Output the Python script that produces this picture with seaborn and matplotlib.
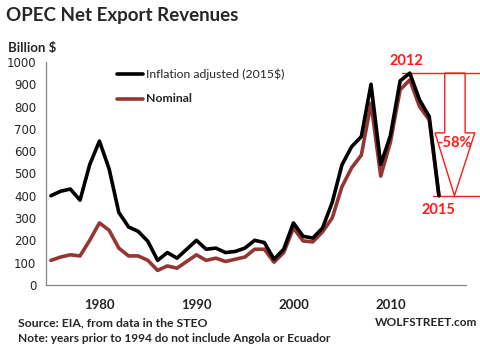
import numpy as np
import pandas as pd
import matplotlib
matplotlib.use('Agg')
import matplotlib.pyplot as plt
import seaborn as sns
from matplotlib.patches import Polygon

years = list(range(1975, 2016))
real = [400, 420, 430, 380, 540, 645, 520, 325, 260, 240,
        195, 110, 145, 120, 160, 200, 160, 165, 145, 150,
        165, 200, 190, 115, 160, 278, 218, 210, 255, 370,
        538, 620, 665, 900, 540, 670, 915, 950, 830, 755,
        400]
nominal = [110, 125, 135, 130, 200, 278, 245, 165, 130, 130,
           110, 65, 85, 75, 105, 135, 110, 120, 105, 115,
           125, 160, 160, 102, 145, 255, 197, 193, 238, 300,
           440, 525, 582, 815, 488, 640, 875, 920, 800, 740,
           400]
series_names = ["Inflation adjusted (2015$)", "Nominal"]

df = pd.DataFrame({"year": years, series_names[0]: real, series_names[1]: nominal})
long = df.melt(id_vars="year", var_name="series", value_name="value")

sns.set_style("white")
plt.rcParams['font.family'] = ['Lato', 'DejaVu Sans']

fig = plt.figure(figsize=(4.8, 3.5), dpi=100)
ax = fig.add_axes([0.096, 0.186, 0.875, 0.637])

palette = {series_names[0]: "black", series_names[1]: "#943634"}
sns.lineplot(data=long[long.series == series_names[1]], x="year", y="value",
             color=palette[series_names[1]], lw=2.6, ax=ax, zorder=2)
sns.lineplot(data=long[long.series == series_names[0]], x="year", y="value",
             color=palette[series_names[0]], lw=2.6, ax=ax, zorder=3)

ax.set_xlim(1974.7, 2017.8)
ax.set_ylim(0, 1000)
ax.set_xlabel("")
ax.set_ylabel("")
for s in ["top", "right"]:
    ax.spines[s].set_visible(False)
for s in ["left", "bottom"]:
    ax.spines[s].set_color("#868686")
    ax.spines[s].set_linewidth(0.9)

ax.set_yticks(range(0, 1001, 100))
ax.tick_params(axis='y', length=4, color="#868686", labelsize=8.5, pad=3)
for t in ax.get_yticklabels():
    t.set_family("DejaVu Sans")
ax.set_xticks([1980, 1990, 2000, 2010])
ax.set_xticklabels(["1980", "1990", "2000", "2010"], fontweight="bold", fontsize=9.5)
ax.tick_params(axis='x', length=0, pad=10)
ax.set_xticks(np.arange(1974.5, 2018, 1.0), minor=True)
ax.tick_params(axis='x', which='minor', length=4, color="#868686", direction='out')

# legend
ax.plot([1981.8, 1984.5], [946, 946], color="black", lw=2.6)
ax.text(1984.8, 946, series_names[0], va='center', fontsize=8.8)
ax.plot([1981.8, 1984.5], [834, 834], color="#943634", lw=2.6)
ax.text(1984.8, 834, series_names[1], va='center', fontsize=8.8, fontweight='bold')

# annotation
red = "#ff1a1a"
ax.plot([2011.2, 2019.2], [950, 950], color=red, lw=1, clip_on=False)
ax.plot([2014.4, 2019.2], [400, 400], color=red, lw=1, clip_on=False)
arrow = Polygon([(2015.6, 950), (2015.6, 682), (2014.6, 682), (2016.6, 400),
                 (2018.7, 682), (2017.7, 682), (2017.7, 950)],
                closed=True, fill=False, ec=red, lw=1, clip_on=False)
ax.add_patch(arrow)
ax.text(2016.6, 637, "-58%", color=red, fontsize=10.5, fontweight='bold', ha='center', va='center')
ax.text(2011.6, 1004, "2012", color=red, fontsize=10.5, fontweight='bold', ha='center', va='center')
ax.text(2015.0, 336, "2015", color=red, fontsize=10.5, fontweight='bold', ha='center', va='center')

fig.text(0.012, 0.955, "OPEC Net Export Revenues", fontsize=13.5, fontweight='bold', va='center')
fig.text(0.016, 0.862, "Billion $", fontsize=9.5, fontweight='bold', va='center')
fig.text(0.038, 0.078, "Source: EIA, from data in the STEO", fontsize=8.8, fontweight='bold', va='center')
fig.text(0.038, 0.033, "Note: years prior to 1994 do not include Angola or Ecuador", fontsize=8.6, fontweight='bold', va='center')
fig.text(0.781, 0.078, "WOLFSTREET.com", fontsize=8.6, fontweight='bold', va='center')

fig.savefig("out.png", dpi=100)
